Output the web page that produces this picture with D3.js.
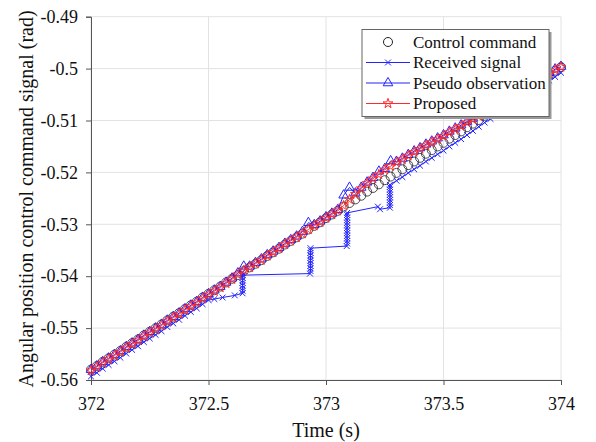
<!DOCTYPE html>
<html>
<head>
<meta charset="utf-8">
<script src="https://cdn.jsdelivr.net/npm/d3@7"></script>
<style>
  body { margin: 0; background: #fff; }
  svg text { font-family: 'Liberation Serif', 'Times New Roman', Tinos, 'DejaVu Serif', serif !important; }
</style>
</head>
<body>
<svg id="chart" width="596" height="442"></svg>
<script>
// time grid shared by command / pseudo / proposed (s)
var gridTime = [372.000, 372.025, 372.050, 372.075, 372.100, 372.125, 372.150, 372.175, 372.200, 372.225,
  372.250, 372.275, 372.300, 372.325, 372.350, 372.375, 372.400, 372.425, 372.450, 372.475,
  372.500, 372.525, 372.550, 372.575, 372.600, 372.625, 372.650, 372.675, 372.700, 372.725,
  372.750, 372.775, 372.800, 372.825, 372.850, 372.875, 372.900, 372.925, 372.950, 372.975,
  373.000, 373.025, 373.050, 373.075, 373.100, 373.125, 373.150, 373.175, 373.200, 373.225,
  373.250, 373.275, 373.300, 373.325, 373.350, 373.375, 373.400, 373.425, 373.450, 373.475,
  373.500, 373.525, 373.550, 373.575, 373.600, 373.625, 373.650, 373.675, 373.700, 373.725,
  373.750, 373.775, 373.800, 373.825, 373.850, 373.875, 373.900, 373.925, 373.950, 373.975, 374.000];

var controlCmd = [-0.5580, -0.5573, -0.5565, -0.5558, -0.5551, -0.5544, -0.5536, -0.5529, -0.5522, -0.5514,
  -0.5507, -0.5500, -0.5493, -0.5485, -0.5478, -0.5471, -0.5463, -0.5456, -0.5449, -0.5441,
  -0.5434, -0.5427, -0.5420, -0.5412, -0.5405, -0.5398, -0.5390, -0.5383, -0.5376, -0.5369,
  -0.5361, -0.5354, -0.5347, -0.5339, -0.5332, -0.5325, -0.5318, -0.5310, -0.5303, -0.5296,
  -0.5288, -0.5281, -0.5274, -0.5266, -0.5259, -0.5252, -0.5245, -0.5237, -0.5230, -0.5223,
  -0.5215, -0.5208, -0.5201, -0.5194, -0.5186, -0.5179, -0.5172, -0.5164, -0.5157, -0.5150,
  -0.5143, -0.5135, -0.5128, -0.5121, -0.5113, -0.5106, -0.5099, -0.5091, -0.5084, -0.5077,
  -0.5070, -0.5062, -0.5055, -0.5048, -0.5040, -0.5033, -0.5026, -0.5019, -0.5011, -0.5004, -0.4997];

var proposed = [-0.5582, -0.5575, -0.5567, -0.5560, -0.5553, -0.5546, -0.5538, -0.5531, -0.5524, -0.5516,
  -0.5509, -0.5502, -0.5495, -0.5487, -0.5480, -0.5473, -0.5465, -0.5458, -0.5451, -0.5443,
  -0.5436, -0.5429, -0.5422, -0.5414, -0.5406, -0.5397, -0.5389, -0.5383, -0.5376, -0.5369,
  -0.5361, -0.5354, -0.5347, -0.5339, -0.5332, -0.5325, -0.5318, -0.5310, -0.5303, -0.5296,
  -0.5288, -0.5281, -0.5274, -0.5264, -0.5252, -0.5242, -0.5231, -0.5221, -0.5212, -0.5204,
  -0.5195, -0.5188, -0.5181, -0.5175, -0.5168, -0.5161, -0.5155, -0.5148, -0.5142, -0.5136,
  -0.5130, -0.5123, -0.5117, -0.5111, -0.5104, -0.5098, -0.5092, -0.5085, -0.5079, -0.5072,
  -0.5066, -0.5058, -0.5051, -0.5045, -0.5037, -0.5031, -0.5024, -0.5018, -0.5010, -0.5003, -0.4997];

var pseudoObs = [-0.5580, -0.5573, -0.5565, -0.5558, -0.5551, -0.5544, -0.5536, -0.5529, -0.5522, -0.5514,
  -0.5507, -0.5500, -0.5493, -0.5485, -0.5478, -0.5471, -0.5463, -0.5456, -0.5449, -0.5441,
  -0.5434, -0.5427, -0.5420, -0.5412, -0.5404, -0.5394, -0.5381, -0.5381, -0.5374, -0.5367,
  -0.5359, -0.5352, -0.5345, -0.5337, -0.5330, -0.5323, -0.5314, -0.5297, -0.5301, -0.5294,
  -0.5286, -0.5279, -0.5272, -0.5244, -0.5229, -0.5240, -0.5229, -0.5219, -0.5210, -0.5198,
  -0.5193, -0.5178, -0.5179, -0.5173, -0.5166, -0.5159, -0.5153, -0.5146, -0.5140, -0.5134,
  -0.5128, -0.5121, -0.5115, -0.5109, -0.5102, -0.5096, -0.5090, -0.5083, -0.5077, -0.5070,
  -0.5064, -0.5056, -0.5049, -0.5043, -0.5035, -0.5029, -0.5022, -0.5016, -0.5008, -0.5001, -0.4996];

// received signal has its own (bursty) arrival times
var recvTime = [372.000, 372.025, 372.050, 372.075, 372.100, 372.125, 372.150, 372.175, 372.200, 372.225,
  372.250, 372.275, 372.300, 372.325, 372.350, 372.375, 372.400, 372.425, 372.450, 372.475,
  372.500, 372.525, 372.560, 372.612,
  372.645, 372.645, 372.645, 372.645, 372.645, 372.645, 372.645, 372.645, 372.645, 372.645,
  372.932, 372.934, 372.934, 372.934, 372.934, 372.934, 372.934, 372.934, 372.934, 372.934, 372.934,
  373.088, 373.090, 373.090, 373.090, 373.090, 373.090, 373.090, 373.090, 373.090, 373.090, 373.090, 373.090, 373.090, 373.090,
  373.221, 373.230,
  373.272, 373.272, 373.272, 373.272, 373.272, 373.272, 373.272, 373.272, 373.272, 373.272,
  373.300, 373.325, 373.350, 373.375, 373.400, 373.425, 373.450, 373.475, 373.500, 373.525,
  373.550, 373.575, 373.600, 373.625, 373.650, 373.675, 373.700, 373.725, 373.750, 373.775,
  373.800, 373.825, 373.850, 373.875, 373.900, 373.925, 373.950, 373.975, 374.000];

var recvSignal = [-0.5593, -0.5586, -0.5578, -0.5571, -0.5564, -0.5557, -0.5549, -0.5542, -0.5535, -0.5527,
  -0.5520, -0.5513, -0.5506, -0.5498, -0.5491, -0.5484, -0.5476, -0.5469, -0.5462, -0.5454,
  -0.5446, -0.5444, -0.5441, -0.5437,
  -0.5433, -0.5428, -0.5423, -0.5418, -0.5413, -0.5408, -0.5403, -0.5398, -0.5393, -0.5398,
  -0.5395, -0.5390, -0.5385, -0.5380, -0.5375, -0.5370, -0.5365, -0.5360, -0.5355, -0.5350, -0.5346,
  -0.5342, -0.5337, -0.5332, -0.5327, -0.5322, -0.5317, -0.5312, -0.5307, -0.5302, -0.5297, -0.5292, -0.5287, -0.5282, -0.5278,
  -0.5266, -0.5271,
  -0.5268, -0.5263, -0.5258, -0.5253, -0.5248, -0.5243, -0.5238, -0.5233, -0.5228, -0.5224,
  -0.5216, -0.5209, -0.5201, -0.5194, -0.5187, -0.5179, -0.5172, -0.5165, -0.5158, -0.5150,
  -0.5143, -0.5136, -0.5128, -0.5120, -0.5112, -0.5104, -0.5097, -0.5089, -0.5082, -0.5074,
  -0.5067, -0.5060, -0.5052, -0.5045, -0.5038, -0.5031, -0.5023, -0.5016, -0.5008];

var xTicks = [372, 372.5, 373, 373.5, 374];
var yTicks = [-0.49, -0.5, -0.51, -0.52, -0.53, -0.54, -0.55, -0.56];
var legendNames = ["Control command", "Received signal", "Pseudo observation", "Proposed"];

var BLUE = "#2323ff", RED = "#ff2a2a";

const svg = d3.select("#chart");
var m = {left: 91, right: 561, top: 16.7, bottom: 380};

var x = d3.scaleLinear().domain([372, 374]).range([m.left, m.right]);
var y = d3.scaleLinear().domain([-0.56, -0.49]).range([m.bottom, m.top]);

// grid
svg.append("g").selectAll("line").data(yTicks).enter().append("line")
  .attr("x1", m.left).attr("x2", m.right)
  .attr("y1", d => y(d)).attr("y2", d => y(d))
  .attr("stroke", "#e2e2e2").attr("stroke-width", 1);
svg.append("g").selectAll("line").data(xTicks).enter().append("line")
  .attr("y1", m.top).attr("y2", m.bottom)
  .attr("x1", d => x(d)).attr("x2", d => x(d))
  .attr("stroke", "#e2e2e2").attr("stroke-width", 1);

// axes
var xAxis = svg.append("g").attr("transform", "translate(0," + m.bottom + ")")
  .call(d3.axisBottom(x).tickValues(xTicks).tickSize(5).tickPadding(8).tickFormat(d => String(d)));
var yAxis = svg.append("g").attr("transform", "translate(" + m.left + ",0)")
  .call(d3.axisLeft(y).tickValues(yTicks).tickSize(5).tickPadding(8).tickFormat(d => String(d)));
[xAxis, yAxis].forEach(function(a) {
  a.select(".domain").attr("stroke", "#555");
  a.selectAll(".tick line").attr("stroke", "#555");
  a.selectAll("text").attr("font-size", 18).attr("fill", "#111");
});
xAxis.selectAll("text").attr("dy", "0.95em");

svg.append("text").attr("x", 326).attr("y", 437).attr("text-anchor", "middle")
  .attr("font-size", 20).attr("fill", "#111").text("Time (s)");
svg.append("text").attr("transform", "rotate(-90)").attr("x", -199).attr("y", 33)
  .attr("text-anchor", "middle").attr("font-size", 20).attr("fill", "#111")
  .text("Angular position control command signal (rad)");

var plot = svg.append("g");
function pts(ts, vs) { return ts.map(function(t, i) { return [t, vs[i]]; }); }
var line = d3.line().x(d => x(d[0])).y(d => y(d[1]));

var cmdPts = pts(gridTime, controlCmd);
var recvPts = pts(recvTime, recvSignal);
var pseudoPts = pts(gridTime, pseudoObs);
var propPts = pts(gridTime, proposed);

// control command: markers only
plot.selectAll(".cmd").data(cmdPts).enter().append("circle")
  .attr("cx", d => x(d[0])).attr("cy", d => y(d[1])).attr("r", 4.5)
  .attr("fill", "none").attr("stroke", "#222").attr("stroke-width", 0.8);

// received
plot.append("path").datum(recvPts).attr("d", line)
  .attr("fill", "none").attr("stroke", BLUE).attr("stroke-width", 1);
plot.selectAll(".recv").data(recvPts).enter().append("path")
  .attr("d", d3.symbol(d3.symbolX, 24))
  .attr("transform", d => "translate(" + x(d[0]) + "," + y(d[1]) + ")")
  .attr("fill", "none").attr("stroke", BLUE).attr("stroke-width", 1);

// pseudo observation
plot.append("path").datum(pseudoPts).attr("d", line)
  .attr("fill", "none").attr("stroke", BLUE).attr("stroke-width", 1);
plot.selectAll(".pseudo").data(pseudoPts).enter().append("path")
  .attr("d", d3.symbol(d3.symbolTriangle, 40))
  .attr("transform", d => "translate(" + x(d[0]) + "," + y(d[1]) + ")")
  .attr("fill", "none").attr("stroke", BLUE).attr("stroke-width", 1);

// proposed
plot.append("path").datum(propPts).attr("d", line)
  .attr("fill", "none").attr("stroke", RED).attr("stroke-width", 1);
plot.selectAll(".prop").data(propPts).enter().append("path")
  .attr("d", d3.symbol(d3.symbolStar, 30))
  .attr("transform", d => "translate(" + x(d[0]) + "," + y(d[1]) + ")")
  .attr("fill", "none").attr("stroke", RED).attr("stroke-width", 1);

// legend
var lg = svg.append("g").attr("transform", "translate(362,29.5)");
lg.append("rect").attr("x", 2.5).attr("y", 2.5).attr("width", 187).attr("height", 87).attr("fill", "#999");
lg.append("rect").attr("width", 187).attr("height", 87).attr("fill", "#fff").attr("stroke", "#666").attr("stroke-width", 1);
var rowY = [12.5, 33, 53.5, 74];
legendNames.forEach(function(name, i) {
  var r = lg.append("g").attr("transform", "translate(0," + rowY[i] + ")");
  if (i > 0) {
    r.append("line").attr("x1", 4).attr("x2", 48).attr("y1", 0).attr("y2", 0)
      .attr("stroke", i === 3 ? RED : BLUE).attr("stroke-width", 1);
  }
  var sym = [d3.symbolCircle, d3.symbolX, d3.symbolTriangle, d3.symbolStar][i];
  var sz = [64, 24, 40, 30][i];
  r.append("path").attr("d", d3.symbol(sym, sz)).attr("transform", "translate(26,0)")
    .attr("fill", "none").attr("stroke", i === 0 ? "#222" : (i === 3 ? RED : BLUE)).attr("stroke-width", 1);
  r.append("text").attr("x", 51).attr("y", 0).attr("dy", "0.35em")
    .attr("font-size", 17).attr("fill", "#111").text(name);
});
</script>
</body>
</html>
